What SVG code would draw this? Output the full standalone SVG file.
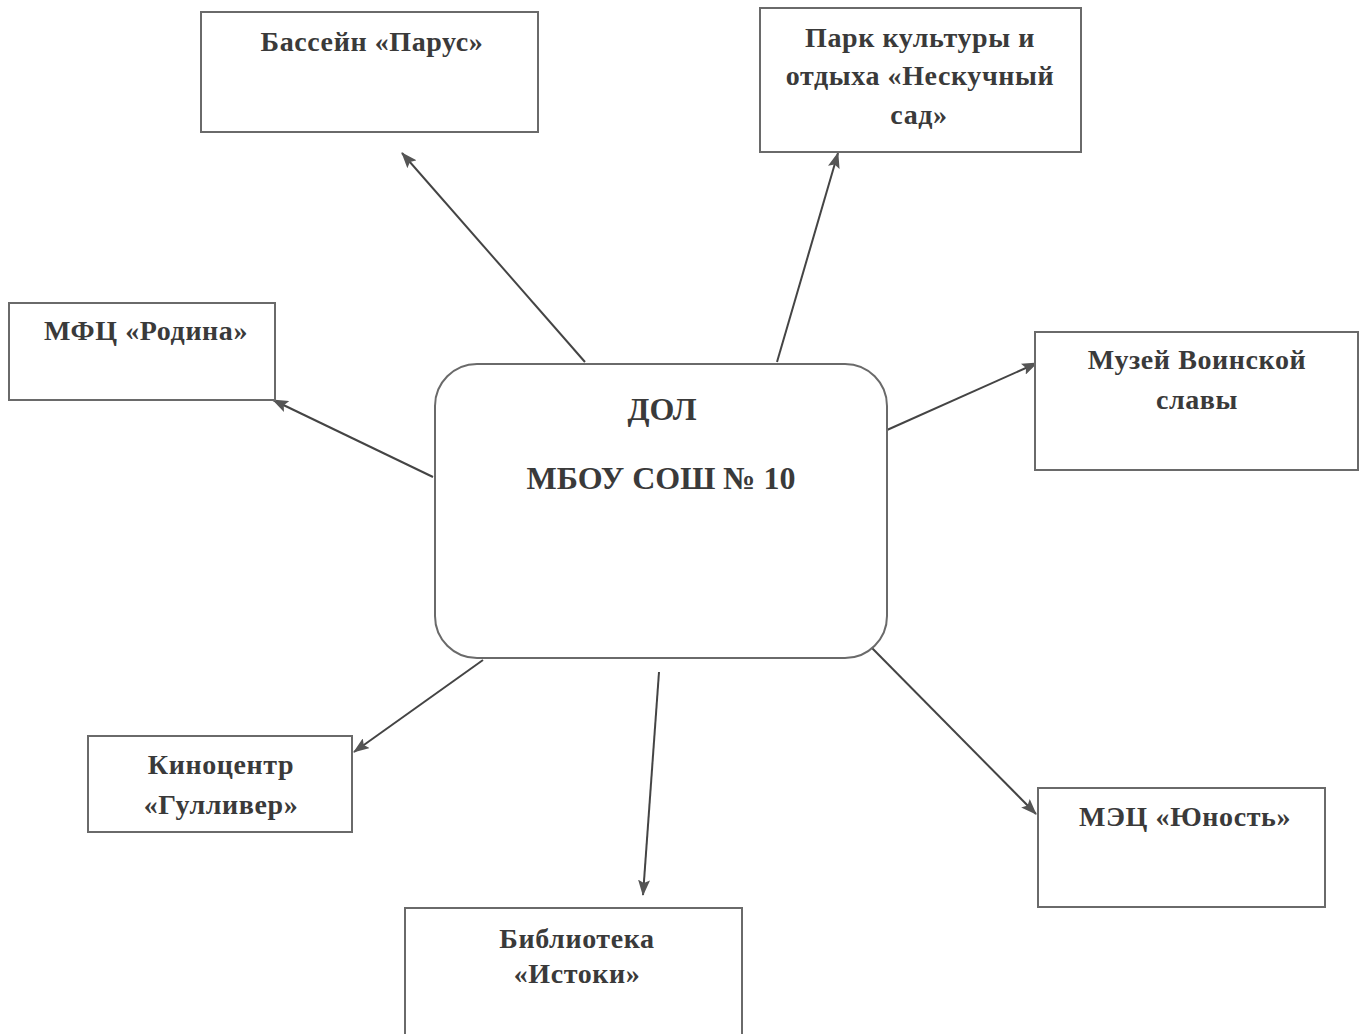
<svg xmlns="http://www.w3.org/2000/svg" width="1364" height="1034" viewBox="0 0 1364 1034">
<defs>
<marker id="arr" viewBox="0 0 16 12" refX="15" refY="6" markerWidth="16" markerHeight="12" markerUnits="userSpaceOnUse" orient="auto">
<path d="M0,0 L16,6 L0,12 L3,6 Z" fill="#555"/>
</marker>
<style>
.box{fill:#fff;stroke:#6a6a6a;stroke-width:2}
.t{font-family:"Liberation Serif","Times New Roman",serif;font-weight:bold;font-size:28px;letter-spacing:0.6px;fill:#3a3a3a;text-anchor:middle}
.tc{font-size:32px;letter-spacing:0}
.c{stroke:#444;stroke-width:2;fill:none;marker-end:url(#arr)}
</style>
</defs>
<rect width="1364" height="1034" fill="#fff"/>
<g id="connectors">
<line class="c" x1="585" y1="362" x2="402" y2="153"/>
<line class="c" x1="777" y1="362" x2="838" y2="153"/>
<line class="c" x1="433" y1="477" x2="273" y2="400"/>
<line class="c" x1="887" y1="430" x2="1037" y2="363"/>
<line class="c" x1="483" y1="660" x2="354" y2="752"/>
<line class="c" x1="659" y1="672" x2="643" y2="895"/>
<line class="c" x1="872" y1="648" x2="1036" y2="814"/>
</g>
<g id="center">
<rect class="box" x="435" y="364" width="452" height="294" rx="42" ry="42"/>
<text class="t tc" x="662" y="420">ДОЛ</text>
<text class="t tc" x="661" y="489">МБОУ СОШ № 10</text>
</g>
<g id="basseyn">
<rect class="box" x="201" y="12" width="337" height="120"/>
<text class="t" x="372" y="51">Бассейн «Парус»</text>
</g>
<g id="park">
<rect class="box" x="760" y="8" width="321" height="144"/>
<text class="t" x="920" y="47">Парк культуры и</text>
<text class="t" x="920" y="85">отдыха «Нескучный</text>
<text class="t" x="919" y="124">сад»</text>
</g>
<g id="mfc">
<rect class="box" x="9" y="303" width="266" height="97"/>
<text class="t" x="146" y="340">МФЦ «Родина»</text>
</g>
<g id="muzey">
<rect class="box" x="1035" y="332" width="323" height="138"/>
<text class="t" x="1197" y="369">Музей Воинской</text>
<text class="t" x="1197" y="409">славы</text>
</g>
<g id="kino">
<rect class="box" x="88" y="736" width="264" height="96"/>
<text class="t" x="221" y="774">Киноцентр</text>
<text class="t" x="221" y="814">«Гулливер»</text>
</g>
<g id="biblioteka">
<rect class="box" x="405" y="908" width="337" height="140"/>
<text class="t" x="577" y="948">Библиотека</text>
<text class="t" x="577" y="983">«Истоки»</text>
</g>
<g id="mec">
<rect class="box" x="1038" y="788" width="287" height="119"/>
<text class="t" x="1185" y="826">МЭЦ «Юность»</text>
</g>
</svg>
